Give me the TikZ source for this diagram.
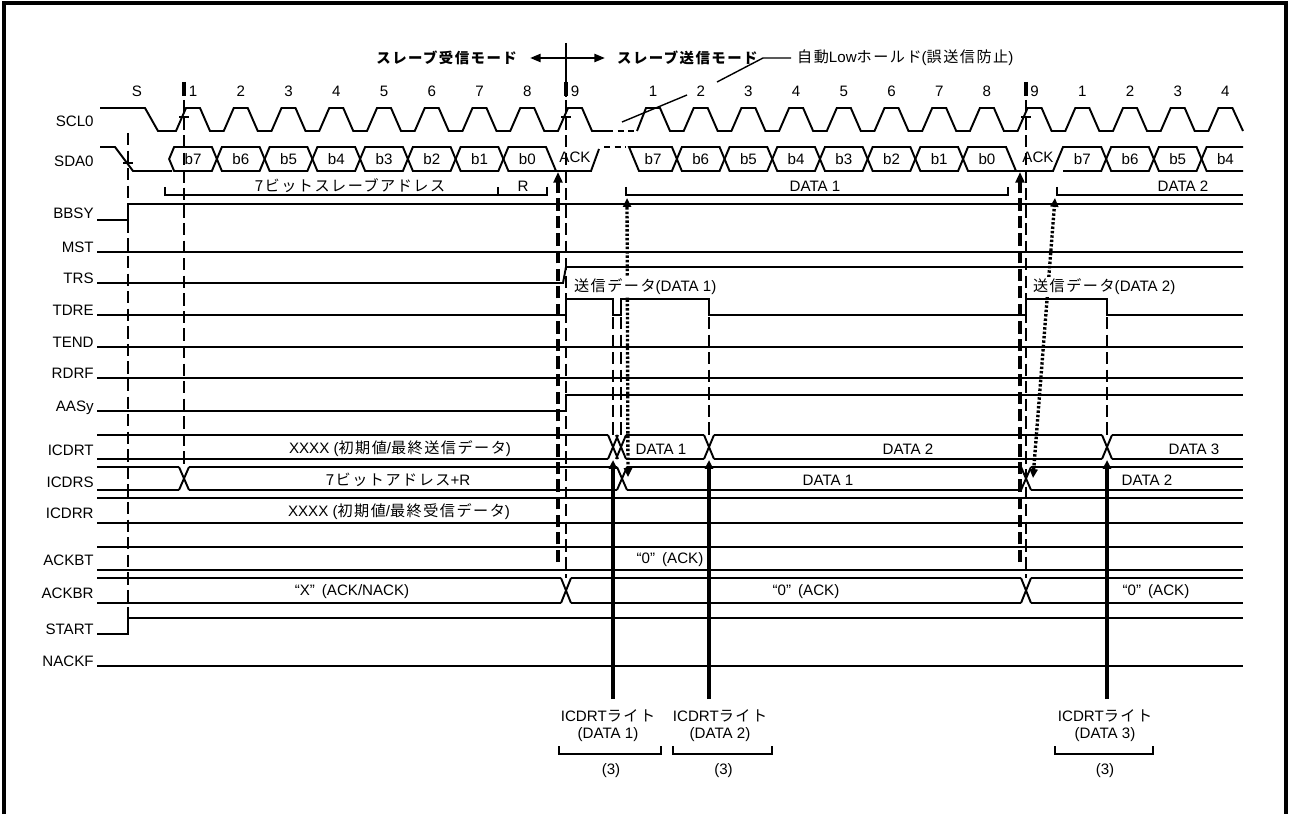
\documentclass[tikz,border=0pt]{standalone}
\usepackage{fontspec}
\setmainfont{Liberation Sans}
\newfontfamily\jpfont{Noto Sans CJK JP}[LetterSpace=10]
\newcommand\ja[1]{{\jpfont #1}}
\newcommand\sz{\fontsize{8.6}{10}\selectfont}
\usetikzlibrary{arrows.meta}

% one data bit on SDA0 between two crossing points
\newcommand\bitcell[2]{\draw[sig] (#1,159) -- ({#1+5},147) -- ({#2-5},147) -- (#2,159) -- ({#2-5},171) -- ({#1+5},171) -- cycle;}
% bus crossing at x=#1, bus between y=#2 and y=#3
\newcommand\busx[3]{\draw[sig] ({#1-5},#2) -- ({#1+5},#3) ({#1-5},#3) -- ({#1+5},#2);}

\begin{document}
\begin{tikzpicture}[x=0.02cm,y=-0.02cm,font=\sz,
  sig/.style={line width=1.1pt},
  hold/.style={line width=1.1pt,dash pattern=on 3.5pt off 2.5pt},
  vdash/.style={line width=1.4pt,dash pattern=on 7pt off 3pt},
  vdashb/.style={line width=1.9pt,dash pattern=on 7pt off 3pt,-{Triangle[length=6pt,width=5pt]}},
  wr/.style={line width=1.9pt,-{Triangle[length=5pt,width=4.5pt]}},
  dots/.style={line width=1.9pt,dash pattern=on 1.4pt off 1.1pt,{Triangle[length=5pt,width=4.5pt]}-{Triangle[length=5pt,width=4.5pt]}},
  brk/.style={line width=0.8pt},
  mode/.style={font=\fontsize{8.2}{10}\selectfont\jpfont\bfseries},
  lab/.style={anchor=base east,inner sep=0pt}]
\useasboundingbox (0,0) rectangle (1290,814);
\draw[line width=2.4pt] (4,814) -- (4,3) -- (1286,3) -- (1286,814);

% signal names
\foreach \nm/\yb in {SCL0/127,SDA0/167,BBSY/218,MST/252,TRS/283,TDRE/315,TEND/347,RDRF/378,AASy/411,ICDRT/455,ICDRS/487,ICDRR/518,ACKBT/565,ACKBR/598,START/634,NACKF/666}
  \node[lab] (l\nm) at (94,\yb) {\nm};

% mode change and hold note
\node[mode,anchor=east] (modeRx) at (523,58) {スレーブ受信モード};
\node[mode,anchor=west] (modeTx) at (611,58) {スレーブ送信モード};
\draw[line width=1.3pt,{Triangle[length=6pt,width=4.5pt]}-{Triangle[length=6pt,width=4.5pt]}] (530,58) -- (605,58);
\draw[line width=1pt] (566,43) -- (566,97);
\node[anchor=west] (holdNote) at (791,58) {\ja{自動}Low\ja{ホールド}(\ja{誤送信防止})};
\draw[line width=0.8pt] (holdNote.west) -- (763,58) -- (717,82);
\draw[line width=0.8pt] (687,95) -- (622,122);

% clock numbers
\node (nS) at (137,91) {S};
\foreach \k in {1,...,9} \node (nA\k) at ({193+47.75*(\k-1)},91) {\k};
\foreach \t [count=\k from 0] in {1,2,3,4,5,6,7,8,9,1,2,3,4} \node (nB\k) at ({653+47.7*\k},91) {\t};
\foreach \x in {184,566,1026} \draw[line width=1.9pt] (\x,82) -- (\x,96);

% SCL0
\draw[sig] (100,108) -- (145,108) -- (158,131) -- (176,131)
  \foreach \k in {0,...,7} { -- ({186+47.75*\k},108) -- ({200+47.75*\k},108) -- ({210+47.75*\k},131) -- ({223.75+47.75*\k},131) }
  -- (568,108) -- (582,108) -- (592,131) -- (607,131);
\draw[hold] (607,131) -- (637,131);
\draw[sig] (637,131)
  \foreach \k in {0,...,11} { -- ({646+47.7*\k},108) -- ({660+47.7*\k},108) -- ({670+47.7*\k},131) -- ({683.7+47.7*\k},131) }
  -- (1218.4,108) -- (1232.4,108) -- (1243,131);

% SDA0
\draw[sig] (100,147) -- (115,147) -- (133,171) -- (172,171);
\foreach \k in {0,...,6} {
  \pgfmathsetmacro\xa{169.125+47.75*\k}
  \pgfmathsetmacro\xb{\xa+47.75}
  \bitcell{\xa}{\xb}
}
\draw[sig] (503.4,159) -- (508.4,147) -- (546,147) -- (556,171);
\draw[sig] (503.4,159) -- (508.4,171) -- (591,171) -- (599,149);
\draw[hold] (604,147) -- (626,147);
\draw[sig] (629,147) -- (671.9,147) -- (676.9,159) -- (671.9,171) -- (639,171) -- cycle;
\foreach \k in {0,...,5} {
  \pgfmathsetmacro\xa{676.85+47.7*\k}
  \pgfmathsetmacro\xb{\xa+47.7}
  \bitcell{\xa}{\xb}
}
\draw[sig] (963.05,159) -- (968,147) -- (1006,147) -- (1016,171);
\draw[sig] (963.05,159) -- (968,171) -- (1053,171) -- (1063,147) -- (1101.2,147) -- (1106.15,159) -- (1101.2,171) -- (1063,171);
\bitcell{1106.15}{1153.85}
\bitcell{1153.85}{1201.55}
\draw[sig] (1243,147) -- (1206.6,147) -- (1201.55,159) -- (1206.6,171) -- (1243,171);
\foreach \t [count=\k from 0] in {b7,b6,b5,b4,b3,b2,b1,b0} {
  \node (bA\k) at ({193+47.75*\k},159) {\t};
  \node (bB\k) at ({653+47.7*\k},159) {\t};
}
\foreach \t [count=\k from 9] in {b7,b6,b5,b4} \node (bC\k) at ({653+47.7*\k},159) {\t};
\node (ack1) at (575,157) {ACK};
\node (ack2) at (1038,157) {ACK};

% byte brackets
\draw[brk] (165,187) -- (165,195) -- (547,195) -- (547,187) (498,195) -- (498,187);
\draw[brk] (626,187) -- (626,195) -- (1008,195) -- (1008,187);
\draw[brk] (1057,187) -- (1057,195) -- (1243,195);
\node (adrTxt) at (350,186) {\ja{7ビットスレーブアドレス}};
\node (rTxt) at (523,186) {R};
\node (d1Txt) at (815,186) {DATA 1};
\node (d2Txt) at (1183,186) {DATA 2};

% flags
\draw[sig] (97,220) -- (128,220) -- (128,204) -- (1243,204);
\draw[sig] (97,252) -- (1243,252);
\draw[sig] (97,283) -- (563,283) -- (566,267) -- (1243,267);
\draw[sig] (97,315) -- (566,315) -- (566,299) -- (613,299) -- (613,315) -- (621,315) -- (621,299) -- (709,299) -- (709,315)
  -- (1026,315) -- (1026,299) -- (1107,299) -- (1107,315) -- (1243,315);
\draw[sig] (97,347) -- (1243,347);
\draw[sig] (97,378) -- (1243,378);
\draw[sig] (97,411) -- (566,411) -- (566,395) -- (1243,395);

% ICDRT
\foreach \a/\b in {97/608,626/704,714/1102,1112/1243} \draw[sig] (\a,435) -- (\b,435) (\a,459) -- (\b,459);
\foreach \x in {613,621,709,1107} \busx{\x}{435}{459}
% ICDRS
\foreach \a/\b in {97/179,189/617,627/1021,1031/1243} \draw[sig] (\a,467) -- (\b,467) (\a,490) -- (\b,490);
\foreach \x in {184,622,1026} \busx{\x}{467}{490}
% ICDRR, ACKBT
\draw[sig] (97,498) -- (1243,498) (97,523) -- (1243,523);
\draw[sig] (97,547) -- (1243,547) (97,570) -- (1243,570);
% ACKBR
\foreach \a/\b in {97/561,571/1021,1031/1243} \draw[sig] (\a,578) -- (\b,578) (\a,603) -- (\b,603);
\foreach \x in {566,1026} \busx{\x}{578}{603}
% START, NACKF
\draw[sig] (97,634) -- (128,634) -- (128,618) -- (1243,618);
\draw[sig] (97,666) -- (1243,666);

% guide lines
\draw[vdash] (128,133) -- (128,618);
\draw[vdash] (184,100) -- (184,467);
\draw[vdash] (566,100) -- (566,578);
\draw[vdash] (1026,100) -- (1026,578);
\draw[vdashb] (558,562) -- (558,172);
\draw[vdashb] (1020,562) -- (1020,172);
\foreach \x in {613,621,709,1107} \draw[vdash] (\x,317) -- (\x,435);
\foreach \x/\y in {128/163,184/117,566/117,1026/117} \draw[line width=0.9pt] (\x-5,\y) -- (\x+5,\y);

% ICDRT -> ICDRS transfer
\draw[dots] (628,477) -- (627,198);
\draw[dots] (1033,478) -- (1055,198);
\node[anchor=west,fill=white,inner sep=1pt] (tx1) at (572,287) {\ja{送信データ}(DATA 1)};
\node[anchor=west,fill=white,inner sep=1pt] (tx2) at (1031,287) {\ja{送信データ}(DATA 2)};

% bus contents
\node (tIni) at (400,449) {XXXX (\ja{初期値}/\ja{最終送信データ})};
\node (tD1) at (661,449) {DATA 1};
\node (tD2) at (908,449) {DATA 2};
\node (tD3) at (1194,449) {DATA 3};
\node (sAdr) at (398,480) {\ja{7ビットアドレス}+R};
\node (sD1) at (828,480) {DATA 1};
\node (sD2) at (1147,480) {DATA 2};
\node (rIni) at (399,512) {XXXX (\ja{初期値}/\ja{最終受信データ})};
\node (ackT) at (670,560) {“0”\hspace{4pt}(ACK)};
\node (ackR0) at (352,592) {“X”\hspace{4pt}(ACK/NACK)};
\node (ackR1) at (806,592) {“0”\hspace{4pt}(ACK)};
\node (ackR2) at (1156,592) {“0”\hspace{4pt}(ACK)};

% ICDRT writes
\draw[wr] (613,699) -- (613,460);
\draw[wr] (709,699) -- (709,460);
\draw[wr] (1107,699) -- (1107,460);
\foreach \n/\x/\a/\b in {1/608/559/661,2/720/673/772,3/1105/1055/1153} {
  \node (wt\n) at (\x,716) {ICDRT\ja{ライト}};
  \node (wd\n) at (\x,735) {(DATA \n)};
  \draw[brk] (\a,746) -- (\a,754) -- (\b,754) -- (\b,746);
  \node (wn\n) at ({(\a+\b)/2+1},771) {(3)};
}
\end{tikzpicture}
\end{document}
